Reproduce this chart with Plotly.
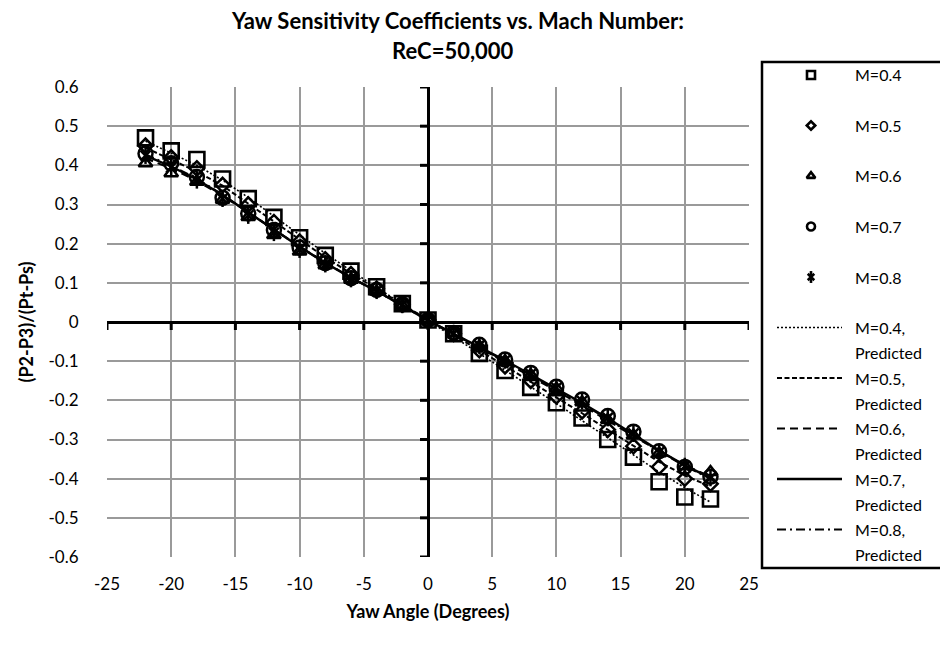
import plotly.graph_objects as go

# Yaw angle stations (degrees)
yaw = [-22, -20, -18, -16, -14, -12, -10, -8, -6, -4, -2, 0,
       2, 4, 6, 8, 10, 12, 14, 16, 18, 20, 22]

# Measured yaw coefficients (P2-P3)/(Pt-Ps)
m04 = [0.470, 0.437, 0.415, 0.365, 0.315, 0.267, 0.215, 0.170, 0.130, 0.090, 0.047, 0.005,
       -0.030, -0.080, -0.124, -0.167, -0.206, -0.245, -0.300, -0.345, -0.408, -0.447, -0.452]
m05 = [0.450, 0.420, 0.392, 0.350, 0.300, 0.255, 0.205, 0.160, 0.122, 0.085, 0.045, 0.005,
       -0.030, -0.072, -0.113, -0.150, -0.190, -0.228, -0.275, -0.317, -0.370, -0.400, -0.413]
m06 = [0.405, 0.380, 0.358, 0.312, 0.268, 0.222, 0.180, 0.145, 0.108, 0.078, 0.042, 0.005,
       -0.028, -0.062, -0.100, -0.135, -0.170, -0.205, -0.250, -0.290, -0.335, -0.368, -0.383]
m07 = [0.430, 0.405, 0.370, 0.317, 0.277, 0.235, 0.190, 0.150, 0.112, 0.082, 0.045, 0.005,
       -0.028, -0.058, -0.096, -0.130, -0.165, -0.198, -0.240, -0.280, -0.330, -0.370, -0.395]
m08 = [0.425, 0.395, 0.362, 0.315, 0.272, 0.228, 0.185, 0.148, 0.110, 0.080, 0.044, 0.005,
       -0.029, -0.060, -0.098, -0.133, -0.168, -0.202, -0.245, -0.285, -0.332, -0.368, -0.398]

# Predicted coefficients
p04 = [0.462, 0.432, 0.400, 0.362, 0.318, 0.270, 0.222, 0.175, 0.131, 0.088, 0.045, 0.003,
       -0.038, -0.080, -0.122, -0.165, -0.208, -0.252, -0.296, -0.340, -0.383, -0.423, -0.460]
p05 = [0.445, 0.415, 0.384, 0.348, 0.302, 0.257, 0.210, 0.165, 0.124, 0.084, 0.044, 0.004,
       -0.034, -0.072, -0.112, -0.152, -0.192, -0.233, -0.275, -0.317, -0.357, -0.392, -0.420]
p06 = [0.418, 0.392, 0.360, 0.322, 0.280, 0.236, 0.193, 0.152, 0.114, 0.079, 0.042, 0.004,
       -0.031, -0.066, -0.102, -0.139, -0.176, -0.213, -0.252, -0.292, -0.330, -0.365, -0.395]
p07 = [0.425, 0.397, 0.364, 0.324, 0.280, 0.236, 0.192, 0.151, 0.113, 0.079, 0.042, 0.004,
       -0.030, -0.063, -0.098, -0.134, -0.170, -0.207, -0.246, -0.287, -0.328, -0.366, -0.398]
p08 = [0.428, 0.399, 0.366, 0.325, 0.280, 0.236, 0.192, 0.151, 0.113, 0.079, 0.042, 0.004,
       -0.030, -0.064, -0.100, -0.136, -0.172, -0.209, -0.248, -0.289, -0.330, -0.368, -0.400]

measured_names = ["M=0.4", "M=0.5", "M=0.6", "M=0.7", "M=0.8"]
predicted_names = ["M=0.4,", "M=0.5,", "M=0.6,", "M=0.7,", "M=0.8,"]
predicted_suffix = "Predicted"

x_ticks = [-25, -20, -15, -10, -5, 0, 5, 10, 15, 20, 25]
x_tick_labels = ["-25", "-20", "-15", "-10", "-5", "0", "5", "10", "15", "20", "25"]
y_ticks = [0.6, 0.5, 0.4, 0.3, 0.2, 0.1, 0, -0.1, -0.2, -0.3, -0.4, -0.5, -0.6]
y_tick_labels = ["0.6", "0.5", "0.4", "0.3", "0.2", "0.1", "0", "-0.1", "-0.2", "-0.3",
                 "-0.4", "-0.5", "-0.6"]

FONT = "Lato, 'Open Sans', sans-serif"
W, H = 940, 647

measured = [m04, m05, m06, m07, m08]
predicted = [p04, p05, p06, p07, p08]

# marker styles: (symbol, size, line width) for plot and legend
plot_marks = [("square-open", 15, 2.6), ("diamond-open", 11, 2.5), ("triangle-up-open", 12, 2.5),
              ("circle-open", 14, 2.5), ("x-thin-open", 10, 2.5)]
legend_marks = [("square-open", 8, 2.6), ("diamond-open", 6.5, 2.6), ("triangle-up-open", 7.5, 2.6),
                ("circle-open", 8, 2.6), ("x-thin-open", 6.5, 2.6)]
line_styles = [("2px,2px", 1.6), ("5px,2.5px", 2.0), ("8px,5px", 2.0), ("solid", 2.4), ("9px,4px,2px,4px", 2.0)]

fig = go.Figure()

for vals, name, (sym, sz, lw) in zip(measured, measured_names, plot_marks):
    fig.add_trace(go.Scatter(x=yaw, y=vals, name=name, mode="markers", showlegend=False,
                             marker=dict(symbol=sym, size=sz, color="black",
                                         line=dict(color="black", width=lw))))
    if sym.startswith("x-thin"):
        # vertical stroke completes the six-arm star marker
        fig.add_trace(go.Scatter(x=yaw, y=vals, mode="markers", showlegend=False, hoverinfo="skip",
                                 marker=dict(symbol="line-ns-open", size=sz + 2, color="black",
                                             line=dict(color="black", width=lw))))

for vals, name, (dash, lw) in zip(predicted, predicted_names, line_styles):
    fig.add_trace(go.Scatter(x=yaw, y=vals, name=name + " " + predicted_suffix, mode="lines",
                             showlegend=False, line=dict(color="black", width=lw, dash=dash)))

# ---- hand-built legend on its own pixel-scaled axes ----
LX0, LX1, LY0, LY1 = 762, W, 62, 568
first_y, pitch, second_line = 75, 50.5, 25
mark_x, line_x0, line_x1, text_x = 811, 777, 842, 853

annotations = []
for i, (name, (sym, sz, lw)) in enumerate(zip(measured_names, legend_marks)):
    yy = first_y + pitch * i
    fig.add_trace(go.Scatter(x=[mark_x], y=[yy], mode="markers", xaxis="x2", yaxis="y2",
                             showlegend=False, hoverinfo="skip",
                             marker=dict(symbol=sym, size=sz, color="black",
                                         line=dict(color="black", width=lw))))
    if sym.startswith("x-thin"):
        fig.add_trace(go.Scatter(x=[mark_x], y=[yy], mode="markers", xaxis="x2", yaxis="y2",
                                 showlegend=False, hoverinfo="skip",
                                 marker=dict(symbol="line-ns-open", size=sz + 2, color="black",
                                             line=dict(color="black", width=lw))))
    annotations.append(dict(x=text_x, y=yy, xref="x2", yref="y2", text=name, showarrow=False,
                            xanchor="left", yanchor="middle", font=dict(family=FONT, size=16, color="black")))

for j, (name, (dash, lw)) in enumerate(zip(predicted_names, line_styles)):
    yy = first_y + pitch * (j + len(measured_names))
    fig.add_trace(go.Scatter(x=[line_x0, line_x1], y=[yy, yy], mode="lines", xaxis="x2", yaxis="y2",
                             showlegend=False, hoverinfo="skip",
                             line=dict(color="black", width=lw, dash=dash)))
    annotations.append(dict(x=text_x, y=yy, xref="x2", yref="y2", text=name, showarrow=False,
                            xanchor="left", yanchor="middle", font=dict(family=FONT, size=16, color="black")))
    annotations.append(dict(x=text_x, y=yy + second_line, xref="x2", yref="y2", text=predicted_suffix,
                            showarrow=False, xanchor="left", yanchor="middle",
                            font=dict(family=FONT, size=16, color="black")))

# ---- title ----
annotations.append(dict(x=457 / W, y=1 - 20 / H, xref="paper", yref="paper",
                        text="<b>Yaw Sensitivity Coefficients vs. Mach Number:</b>", showarrow=False,
                        xanchor="center", yanchor="middle", font=dict(family=FONT, size=22, color="black")))
annotations.append(dict(x=453 / W, y=1 - 50 / H, xref="paper", yref="paper",
                        text="<b>ReC=50,000</b>", showarrow=False,
                        xanchor="center", yanchor="middle", font=dict(family=FONT, size=22, color="black")))

# ---- axes cross ticks on the zero lines ----
shapes = []
for yv in y_ticks:
    shapes.append(dict(type="line", xref="x", yref="y", xsizemode="pixel", xanchor=0,
                       x0=-8, x1=0, y0=yv, y1=yv, line=dict(color="black", width=3)))
for xv in x_ticks:
    shapes.append(dict(type="line", xref="x", yref="y", ysizemode="pixel", yanchor=0,
                       y0=-8, y1=0, x0=xv, x1=xv, line=dict(color="black", width=3)))

# legend frame
shapes.append(dict(type="rect", xref="paper", yref="paper", x0=LX0 / W, x1=1.02,
                   y0=1 - LY1 / H, y1=1 - LY0 / H, line=dict(color="black", width=2.5),
                   fillcolor="rgba(0,0,0,0)"))

PX0, PX1, PY0, PY1 = 107, 749, 87, 557

fig.update_layout(
    width=W, height=H,
    margin=dict(l=0, r=0, t=0, b=0, autoexpand=False),
    paper_bgcolor="white", plot_bgcolor="white",
    font=dict(family=FONT, color="black"),
    showlegend=False,
    xaxis=dict(domain=[PX0 / W, PX1 / W], range=[-25, 25], tickvals=x_ticks, ticktext=x_tick_labels,
               showgrid=True, gridcolor="#9a9a9a", gridwidth=1.5,
               zeroline=True, zerolinecolor="black", zerolinewidth=3,
               showline=False, ticks="outside", ticklen=12, tickcolor="rgba(0,0,0,0)",
               tickfont=dict(family=FONT, size=17, color="black"),
               title=dict(text="<b>Yaw Angle (Degrees)</b>", font=dict(family=FONT, size=18, color="black"),
                          standoff=11),
               fixedrange=True),
    yaxis=dict(domain=[1 - PY1 / H, 1 - PY0 / H], range=[-0.6, 0.6], tickvals=y_ticks, ticktext=y_tick_labels,
               showgrid=True, gridcolor="#9a9a9a", gridwidth=1.5,
               zeroline=True, zerolinecolor="black", zerolinewidth=3,
               showline=False, ticks="outside", ticklen=24, tickcolor="rgba(0,0,0,0)",
               tickfont=dict(family=FONT, size=17, color="black"),
               title=dict(text="<b>(P2-P3)/(Pt-Ps)</b>", font=dict(family=FONT, size=18, color="black"),
                          standoff=10),
               fixedrange=True),
    xaxis2=dict(domain=[LX0 / W, 1], range=[LX0, W], visible=False, fixedrange=True),
    yaxis2=dict(domain=[1 - LY1 / H, 1 - LY0 / H], range=[LY1, LY0], visible=False, fixedrange=True,
                anchor="x2"),
    annotations=annotations,
    shapes=shapes,
)

fig.write_html("out.html")
